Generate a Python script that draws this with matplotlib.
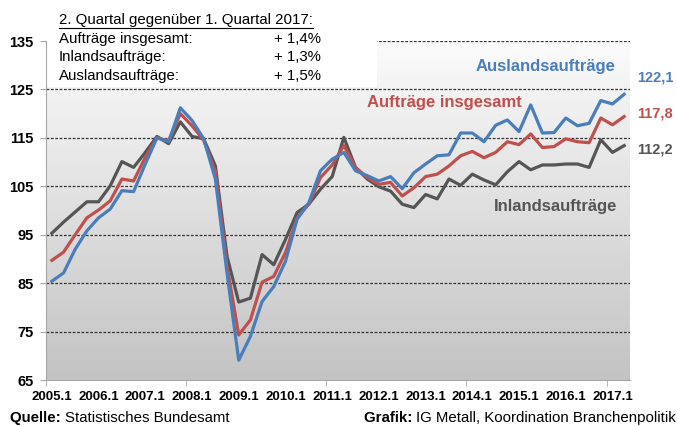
import numpy as np
import matplotlib
matplotlib.use("Agg")
import matplotlib.pyplot as plt
from matplotlib.colors import LinearSegmentedColormap
from matplotlib.patches import Rectangle
from matplotlib.lines import Line2D

plt.rcParams['font.family'] = ['Liberation Sans', 'DejaVu Sans']

# quarterly index values, 2005.1 .. 2017.2
gesamt = [89.7, 91.4, 95.0, 98.5, 100.1, 102.0, 106.5, 106.1, 111.0, 115.0,
          114.4, 120.0, 117.5, 114.5, 108.0, 88.5, 74.3, 77.4, 85.2, 86.4,
          91.3, 98.5, 101.3, 106.8, 109.4, 113.4, 108.9, 106.8, 105.4, 105.8,
          103.0, 104.7, 107.0, 107.5, 109.2, 111.3, 112.2, 110.9, 112.0, 114.2,
          113.6, 115.8, 113.0, 113.2, 114.8, 114.2, 114.0, 119.1, 117.7, 119.4]
inland = [95.3, 97.6, 99.7, 101.8, 101.8, 105.1, 110.1, 108.9, 112.0, 115.3,
          113.8, 118.3, 115.3, 114.8, 109.2, 90.5, 81.1, 81.9, 90.9, 88.8,
          94.0, 99.6, 101.3, 104.4, 107.0, 115.1, 108.9, 106.5, 104.9, 104.0,
          101.3, 100.6, 103.3, 102.4, 106.5, 105.2, 107.5, 106.3, 105.3, 108.0,
          110.1, 108.4, 109.4, 109.4, 109.6, 109.6, 108.9, 114.6, 112.0, 113.4]
ausland = [85.4, 87.1, 92.0, 95.8, 98.5, 100.3, 104.1, 103.9, 109.6, 115.0,
           114.2, 121.2, 118.6, 114.8, 106.5, 87.0, 69.1, 74.0, 81.2, 84.3,
           89.5, 98.2, 101.6, 108.2, 110.6, 112.0, 108.2, 107.2, 106.1, 107.0,
           104.5, 107.8, 109.6, 111.3, 111.5, 116.0, 116.0, 114.2, 117.6, 118.7,
           116.3, 121.8, 116.0, 116.1, 119.1, 117.5, 118.0, 122.7, 122.0, 124.0]
year_labels = ['2005.1', '2006.1', '2007.1', '2008.1', '2009.1', '2010.1', '2011.1',
               '2012.1', '2013.1', '2014.1', '2015.1', '2016.1', '2017.1']
yticks = [65, 75, 85, 95, 105, 115, 125, 135]
summary = [('Aufträge insgesamt:', '+ 1,4%'),
           ('Inlandsaufträge:', '+ 1,3%'),
           ('Auslandsaufträge:', '+ 1,5%')]
end_values = ['122,1', '117,8', '112,2']

c_blue = '#4a7ebb'
c_red = '#c0504d'
c_gray = '#555555'

W, H = 677, 426
fig = plt.figure(figsize=(W / 100, H / 100), dpi=100)
ax = fig.add_axes([46 / W, (H - 380) / H, (630 - 46) / W, (380 - 41) / H])

x = np.arange(len(gesamt))
ax.set_xlim(-0.5, len(gesamt) - 0.5)
ax.set_ylim(65, 135)

# gradient background
cmap = LinearSegmentedColormap.from_list('bg', ['#fbfbfb', '#c3c3c3'])
ax.imshow(np.linspace(0, 1, 256)[:, None], extent=[-0.5, len(gesamt) - 0.5, 65, 135],
          aspect='auto', cmap=cmap, zorder=0)

for v in yticks[1:]:
    ax.axhline(v, color='#333333', lw=0.9, ls=(0, (2.2, 1.3)), zorder=1)

# white box behind the summary text
ax.add_patch(Rectangle((0, (125.6 - 65) / 70), (377 - 46) / 584, 1,
                       transform=ax.transAxes, facecolor='white', edgecolor='none',
                       zorder=1.5, clip_on=False))

ax.plot(x, inland, color=c_gray, lw=2.3, zorder=3)
ax.plot(x, gesamt, color=c_red, lw=2.3, zorder=4)
ax.plot(x, ausland, color=c_blue, lw=2.3, zorder=5)

for s in ['top', 'right']:
    ax.spines[s].set_visible(False)
for s in ['left', 'bottom']:
    ax.spines[s].set_color('#a6a6a6')
    ax.spines[s].set_zorder(6)

ax.set_yticks(yticks)
ax.set_yticklabels([str(v) for v in yticks], fontsize=10.5, fontweight='bold')
ax.tick_params(axis='y', length=4, color='#a6a6a6', pad=5)

ax.set_xticks(np.arange(0, len(gesamt), 4))
ax.set_xticklabels(year_labels, fontsize=9.5, fontweight='bold')
ax.set_xticks(np.arange(-0.5, len(gesamt), 12), minor=True)
ax.tick_params(axis='x', which='major', length=0, pad=8)
ax.tick_params(axis='x', which='minor', length=4, color='#a6a6a6')

# series labels
ax.text(615 / W, (H - 66) / H, 'Auslandsaufträge', transform=fig.transFigure,
        color=c_blue, fontsize=12, fontweight='bold', ha='right', va='center')
ax.text(522 / W, (H - 103) / H, 'Aufträge insgesamt', transform=fig.transFigure,
        color=c_red, fontsize=12, fontweight='bold', ha='right', va='center')
ax.text(617 / W, (H - 207) / H, 'Inlandsaufträge', transform=fig.transFigure,
        color=c_gray, fontsize=12, fontweight='bold', ha='right', va='center')

for val, yp, col in zip(end_values, [78, 114, 150], [c_blue, c_red, c_gray]):
    fig.text(637 / W, (H - yp) / H, val, color=col, fontsize=10.5,
             fontweight='bold', ha='left', va='center')

# summary box
head = fig.text(59 / W, (H - 20) / H, '2. Quartal gegenüber 1. Quartal 2017:',
                fontsize=10.8, ha='left', va='center')
for k, (name, val) in enumerate(summary):
    yp = 39 + k * 18.3
    fig.text(59 / W, (H - yp) / H, name, fontsize=10.8, ha='left', va='center')
    fig.text(321 / W, (H - yp) / H, val, fontsize=10.8, ha='right', va='center')

renderer = fig.canvas.get_renderer()
bb = head.get_window_extent(renderer)
fig.add_artist(Line2D([bb.x0 / W, bb.x1 / W], [(H - 28) / H, (H - 28) / H],
                      transform=fig.transFigure, color='black', lw=0.8))

# footer
q = fig.text(10 / W, (H - 418) / H, 'Quelle: ', fontsize=10.8, fontweight='bold',
             ha='left', va='center')
bb = q.get_window_extent(renderer)
fig.text(bb.x1 / W, (H - 418) / H, 'Statistisches Bundesamt', fontsize=10.8,
         ha='left', va='center')
g = fig.text(676 / W, (H - 418) / H, 'IG Metall, Koordination Branchenpolitik',
             fontsize=10.8, ha='right', va='center')
bb = g.get_window_extent(renderer)
fig.text(bb.x0 / W, (H - 418) / H, 'Grafik: ', fontsize=10.8, fontweight='bold',
         ha='right', va='center')

fig.savefig('out.png', dpi=100)
